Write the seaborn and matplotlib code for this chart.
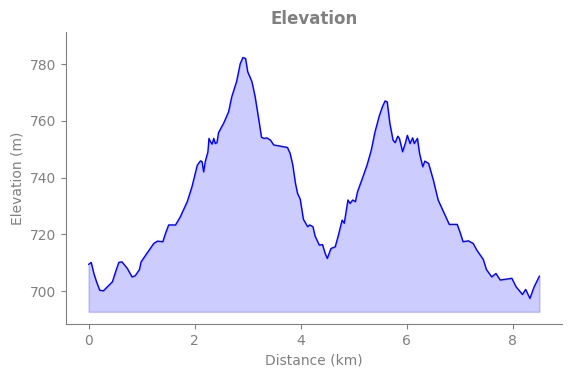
import matplotlib
matplotlib.use("Agg")
import matplotlib.pyplot as plt
import seaborn as sns
import pandas as pd

# distance along the track (km) and elevation (m)
distance = [0.00, 0.05, 0.10, 0.15, 0.21, 0.28, 0.45, 0.51, 0.57, 0.63,
            0.73, 0.82, 0.88, 0.96, 0.99, 1.10, 1.23, 1.30, 1.40, 1.45,
            1.51, 1.64, 1.73, 1.86, 1.95, 2.05, 2.11, 2.14, 2.17, 2.20,
            2.25, 2.27, 2.30, 2.33, 2.36, 2.39, 2.42, 2.45, 2.55, 2.64,
            2.70, 2.79, 2.86, 2.91, 2.96, 3.00, 3.08, 3.14, 3.21, 3.26,
            3.31, 3.36, 3.43, 3.49, 3.61, 3.75, 3.80, 3.85, 3.90, 3.94,
            3.99, 4.05, 4.13, 4.17, 4.23, 4.27, 4.35, 4.41, 4.46, 4.50,
            4.57, 4.65, 4.71, 4.78, 4.82, 4.89, 4.93, 4.98, 5.03, 5.07,
            5.15, 5.25, 5.33, 5.40, 5.48, 5.54, 5.59, 5.63, 5.68, 5.74,
            5.78, 5.83, 5.86, 5.92, 5.97, 6.01, 6.06, 6.11, 6.14, 6.20,
            6.24, 6.30, 6.34, 6.41, 6.50, 6.59, 6.69, 6.80, 6.95, 7.00,
            7.06, 7.16, 7.25, 7.32, 7.44, 7.50, 7.60, 7.68, 7.76, 7.98,
            8.06, 8.18, 8.24, 8.32, 8.40, 8.50]
elevation = [709.4, 710.1, 706.2, 703.3, 700.3, 700.1, 703.3, 706.8, 710.1, 710.3,
             708.0, 705.0, 705.4, 707.6, 710.3, 713.3, 716.8, 717.6, 717.4, 720.3,
             723.3, 723.3, 726.2, 731.5, 736.8, 744.4, 745.9, 745.6, 742.0, 745.6,
             749.1, 753.8, 752.6, 751.8, 753.8, 752.0, 752.3, 755.8, 759.3, 763.2,
             768.5, 773.8, 780.2, 782.3, 782.0, 777.3, 773.8, 768.5, 760.3, 754.2,
             753.8, 754.0, 753.2, 751.5, 751.1, 750.6, 748.5, 744.4, 738.0, 734.4,
             732.4, 725.3, 722.7, 723.3, 722.7, 719.4, 716.2, 716.4, 713.3, 711.5,
             715.0, 715.6, 719.7, 725.0, 723.9, 732.1, 730.9, 732.1, 731.5, 735.0,
             739.1, 744.4, 749.7, 756.1, 761.7, 765.0, 767.0, 766.7, 759.1, 753.2,
             752.3, 754.6, 753.8, 749.1, 752.0, 754.9, 752.0, 754.0, 752.0, 753.8,
             748.5, 743.8, 745.8, 745.0, 739.1, 732.1, 728.0, 723.5, 723.5, 720.9,
             717.4, 717.7, 716.8, 714.4, 711.2, 707.6, 705.0, 706.2, 703.9, 704.5,
             701.5, 698.8, 700.6, 697.4, 701.5, 705.3]
fill_base = 692.7

df = pd.DataFrame({"Distance (km)": distance, "Elevation (m)": elevation})

sns.set_style("ticks")
grey = "#808080"
plt.rcParams["font.family"] = ["DejaVu Sans"]

fig = plt.figure(figsize=(5.71, 3.78), dpi=100)
ax = fig.add_axes([0.1156, 0.1429, 0.8686, 0.7724])

sns.lineplot(data=df, x="Distance (km)", y="Elevation (m)", color="blue", linewidth=1, ax=ax)
ax.fill_between(df["Distance (km)"], df["Elevation (m)"], fill_base, color="blue", alpha=0.2)

ax.set_ylim(688.4, 791.3)
ax.set_yticks([700, 720, 740, 760, 780])
ax.set_xticks([0, 2, 4, 6, 8])
ax.set_title("Elevation", color=grey, fontsize=12, fontweight="bold")
ax.set_xlabel("Distance (km)", color=grey, fontsize=10)
ax.set_ylabel("Elevation (m)", color=grey, fontsize=10)
ax.tick_params(colors=grey, labelsize=10)
sns.despine(ax=ax)
for side in ["left", "bottom"]:
    ax.spines[side].set_color(grey)

fig.savefig("out.png", dpi=100)
